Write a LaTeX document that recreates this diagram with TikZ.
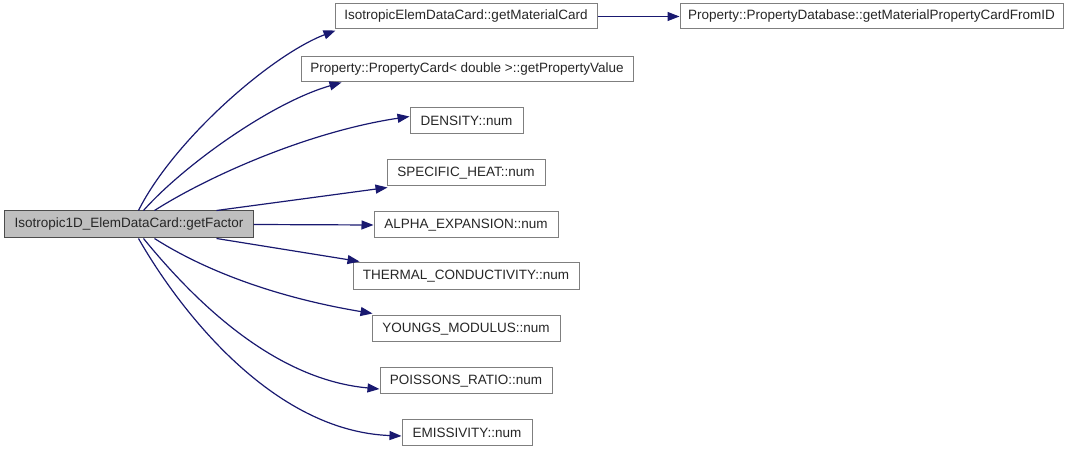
\documentclass[tikz,border=0pt]{standalone}
\usepackage{fontspec}
\setmainfont{Liberation Sans}
\usetikzlibrary{arrows.meta}
\definecolor{edgeblue}{HTML}{191970}
\definecolor{boxline}{HTML}{7F7F7F}
\definecolor{mainfill}{HTML}{BFBFBF}
\tikzset{
  fbox/.style={draw=boxline, line width=1bp, fill=white, inner sep=0pt, font=\fontsize{13.5bp}{15bp}\selectfont, text=black!85},
  mainbox/.style={fbox, fill=mainfill, draw=black!70},
  call/.style={draw=edgeblue, line width=1.2bp, -{Triangle[length=12bp,width=9bp]}},
}
\begin{document}
\begin{tikzpicture}[x=1bp,y=-1bp]
\useasboundingbox (0,0) rectangle (1069,453);
\node[mainbox, minimum width=248bp, minimum height=27bp] (main) at (129,224.5) {Isotropic1D\_ElemDataCard::getFactor};
\node[fbox, minimum width=262bp, minimum height=25bp] (gmc) at (466,16.5) {IsotropicElemDataCard::getMaterialCard};
\node[fbox, minimum width=383bp, minimum height=25bp] (pdb) at (871.5,16.5) {Property::PropertyDatabase::getMaterialPropertyCardFromID};
\node[fbox, minimum width=332bp, minimum height=25bp] (gpv) at (467,69.5) {Property::PropertyCard< double >::getPropertyValue};
\node[fbox, minimum width=113bp, minimum height=26bp] (den) at (466.5,120.5) {DENSITY::num};
\node[fbox, minimum width=158bp, minimum height=26bp] (sph) at (466,173) {SPECIFIC\_HEAT::num};
\node[fbox, minimum width=184bp, minimum height=26bp] (alp) at (466,225) {ALPHA\_EXPANSION::num};
\node[fbox, minimum width=226bp, minimum height=27bp] (thc) at (466,276.5) {THERMAL\_CONDUCTIVITY::num};
\node[fbox, minimum width=188bp, minimum height=26bp] (ym) at (466,329) {YOUNGS\_MODULUS::num};
\node[fbox, minimum width=172bp, minimum height=26bp] (pr) at (466,381) {POISSONS\_RATIO::num};
\node[fbox, minimum width=130bp, minimum height=26bp] (em) at (467,433) {EMISSIVITY::num};

\draw[call] ([xshift=134bp]main.north west) .. controls +(35,-70) and +(-65,25) .. ([xshift=1bp,yshift=-1bp]gmc.south west);
\draw[call] ([xshift=139bp]main.north west) .. controls +(40,-45) and +(-70,20) .. ([xshift=41bp]gpv.south west);
\draw[call] ([xshift=150bp]main.north west) .. controls +(55,-35) and +(-100,15) .. ([yshift=4bp]den.west);
\draw[call] ([xshift=212bp]main.north west) -- ([xshift=1bp,yshift=-1bp]sph.south west);
\draw[call] (main.east) -- (alp.west);
\draw[call] ([xshift=212bp]main.south west) -- ([xshift=7bp,yshift=1bp]thc.north west);
\draw[call] ([xshift=150bp]main.south west) .. controls +(55,35) and +(-90,-15) .. ([xshift=1bp,yshift=2bp]ym.north west);
\draw[call] ([xshift=139bp]main.south west) .. controls +(45,55) and +(-110,-10) .. ([yshift=-8bp]pr.west);
\draw[call] ([xshift=134bp]main.south west) .. controls +(40,70) and +(-130,-5) .. ([yshift=-3bp]em.west);
\draw[call] (gmc.east) -- (pdb.west);
\end{tikzpicture}
\end{document}
